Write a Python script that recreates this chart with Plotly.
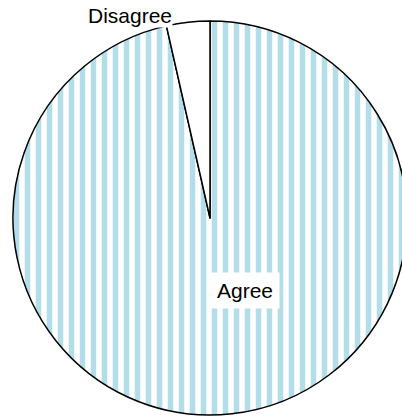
import plotly.graph_objects as go

labels = ["Agree", "Disagree"]
values = [96.45, 3.55]
label_pos = {"Agree": (245, 290), "Disagree": (130, 15)}

W, H = 420, 418
cx, cy, r = 210, 218, 197

fig = go.Figure(go.Pie(
    labels=labels,
    values=values,
    sort=False,
    direction="clockwise",
    rotation=0,
    textinfo="none",
    hoverinfo="label+value",
    marker=dict(
        colors=["white", "white"],
        line=dict(color="black", width=1.5),
        pattern=dict(
            shape=["|", ""],
            fgcolor="#b3dde8",
            bgcolor="white",
            size=11,
            solidity=0.5,
            fillmode="replace",
        ),
    ),
    domain=dict(x=[(cx - r) / W, (cx + r) / W], y=[(H - cy - r) / H, (H - cy + r) / H]),
    showlegend=False,
))

for lab in labels:
    px, py = label_pos[lab]
    fig.add_annotation(
        x=px / W, y=1 - py / H, xref="paper", yref="paper",
        xanchor="center", yanchor="middle",
        text=lab, showarrow=False,
        font=dict(family="Liberation Sans, Arial, sans-serif", size=21, color="black"),
        bgcolor="white", borderpad=6 if lab == "Agree" else 0,
    )

fig.update_layout(
    width=W, height=H,
    margin=dict(l=0, r=0, t=0, b=0),
    paper_bgcolor="white", plot_bgcolor="white",
)

fig.write_html("out.html", config={"displayModeBar": False},
               post_script="document.body.style.margin='0';document.body.style.overflow='hidden';")
